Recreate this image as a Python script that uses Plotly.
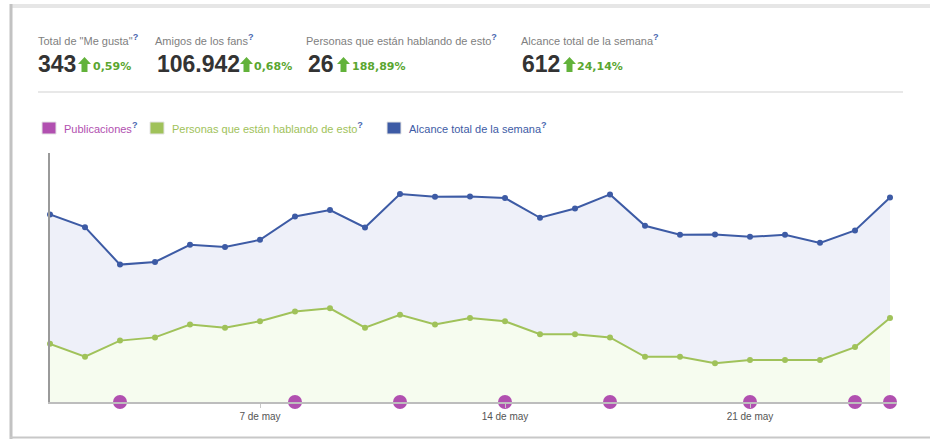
import plotly.graph_objects as go
import pandas as pd

# ---------------- data ----------------
dates = pd.date_range("2012-05-01", "2012-05-25", freq="D").strftime("%Y-%m-%d").tolist()
alcance = [561, 523, 411, 419, 470, 464, 485, 555, 574, 522, 622, 614, 615,
           610, 551, 579, 621, 527, 500, 501, 494, 500, 476, 513, 612]
hablando = [18, 14, 19, 20, 24, 23, 25, 28, 29, 23, 27, 24, 26,
            25, 21, 21, 20, 14, 14, 12, 13, 13, 13, 17, 26]
publicaciones = ["2012-05-03", "2012-05-08", "2012-05-11", "2012-05-14",
                 "2012-05-17", "2012-05-21", "2012-05-24", "2012-05-25"]
tick_vals = ["2012-05-07", "2012-05-14", "2012-05-21"]
tick_text = ["7 de may", "14 de may", "21 de may"]

stat_labels = ['Total de "Me gusta"', "Amigos de los fans",
               "Personas que están hablando de esto", "Alcance total de la semana"]
stat_values = ["343", "106.942", "26", "612"]
stat_changes = ["0,59%", "0,68%", "188,89%", "24,14%"]
legend_names = ["Publicaciones", "Personas que están hablando de esto",
                "Alcance total de la semana"]

# ---------------- style ----------------
BLUE = "#3d5ba5"
GREEN = "#a0c25a"
PURPLE = "#b150b0"
BLUE_FILL = "#eef0f9"
GREEN_FILL = "#f6fcef"
QCOL = "#4a67b0"

W_FIG, H_FIG = 930, 439
# plot area in screen pixels
L, R, T, B = 50, 897, 153, 402


def px(x):
    return (x - L) / (R - L)


def py(y):
    return (B - y) / (B - T)


fig = go.Figure()

fig.add_trace(go.Scatter(
    x=dates, y=alcance, name=legend_names[2], mode="lines+markers",
    line=dict(color=BLUE, width=2), marker=dict(size=6, color=BLUE),
    fill="tozeroy", fillcolor=BLUE_FILL, yaxis="y", cliponaxis=False,
    showlegend=False))

fig.add_trace(go.Scatter(
    x=dates, y=hablando, name=legend_names[1], mode="lines+markers",
    line=dict(color=GREEN, width=2), marker=dict(size=6, color=GREEN),
    fill="tozeroy", fillcolor=GREEN_FILL, yaxis="y2", cliponaxis=False,
    showlegend=False))

fig.add_trace(go.Scatter(
    x=publicaciones, y=[0] * len(publicaciones), name=legend_names[0],
    mode="markers", marker=dict(size=14, color=PURPLE), yaxis="y2",
    cliponaxis=False, showlegend=False))

shapes = []
annotations = []

# frame
shapes.append(dict(type="line", xref="paper", yref="paper", x0=px(10), x1=px(930),
                   y0=py(6), y1=py(6), line=dict(color="#e6e6e6", width=4)))
shapes.append(dict(type="line", xref="paper", yref="paper", x0=px(11), x1=px(11),
                   y0=py(4), y1=py(439), line=dict(color="#c2c2c2", width=3)))
shapes.append(dict(type="line", xref="paper", yref="paper", x0=px(10), x1=px(930),
                   y0=py(437.5), y1=py(437.5), line=dict(color="#c8c8c8", width=2)))
# separator
shapes.append(dict(type="line", xref="paper", yref="paper", x0=px(38), x1=px(903),
                   y0=py(92), y1=py(92), line=dict(color="#e8e8e8", width=2)))

Q = f'<span style="color:{QCOL};font-size:13px"><sup><b>?</b></sup></span>'

# header stats
label_x = [38, 155, 306, 521]
value_x = [38, 157, 308, 522]
arrow_x = [78, 240, 337, 563]
pct_x = [92, 253, 351, 576]
for i in range(4):
    annotations.append(dict(
        xref="paper", yref="paper", x=px(label_x[i] - 2), y=py(39),
        xanchor="left", yanchor="middle", showarrow=False,
        text=f"{stat_labels[i]}{Q}",
        font=dict(family="Liberation Sans, Arial", size=11, color="#808080")))
    annotations.append(dict(
        xref="paper", yref="paper", x=px(value_x[i] - 2), y=py(64),
        xanchor="left", yanchor="middle", showarrow=False,
        text=f"<b>{stat_values[i]}</b>",
        font=dict(family="Liberation Sans Narrow, Liberation Sans, Arial",
                  size=23, color="#333333")))
    annotations.append(dict(
        xref="paper", yref="paper", x=px(pct_x[i] - 1), y=py(66),
        xanchor="left", yanchor="middle", showarrow=False,
        text=f"<b>{stat_changes[i]}</b>",
        font=dict(family="DejaVu Sans", size=11, color="#5aa630")))
    # green up arrow
    ax = arrow_x[i]
    pts = [(ax + 6.5, 57), (ax + 13, 64), (ax + 9.5, 64), (ax + 9.5, 72),
           (ax + 3.5, 72), (ax + 3.5, 64), (ax, 64)]
    path = "M " + " L ".join(f"{px(a):.5f},{py(b):.5f}" for a, b in pts) + " Z"
    shapes.append(dict(type="path", xref="paper", yref="paper", path=path,
                       fillcolor="#62b23a", line=dict(width=0)))

# custom legend
leg_sq_x = [42, 150, 387]
leg_txt_x = [62, 170, 407]
leg_cols = [PURPLE, GREEN, BLUE]
for i in range(3):
    shapes.append(dict(type="rect", xref="paper", yref="paper",
                       x0=px(leg_sq_x[i]), x1=px(leg_sq_x[i] + 14),
                       y0=py(122), y1=py(134), fillcolor=leg_cols[i],
                       line=dict(color="#e4e4e4", width=1)))
    annotations.append(dict(
        xref="paper", yref="paper", x=px(leg_txt_x[i]), y=py(127),
        xanchor="left", yanchor="middle", showarrow=False,
        text=f"{legend_names[i]}{Q}",
        font=dict(family="Liberation Sans, Arial", size=11, color=leg_cols[i])))

x_end = pd.Timestamp(dates[-1]) + pd.Timedelta(hours=24 * 7 / 35)

fig.update_layout(
    width=W_FIG, height=H_FIG,
    margin=dict(l=L, r=W_FIG - R, t=T, b=H_FIG - B, pad=0),
    paper_bgcolor="white", plot_bgcolor="white",
    xaxis=dict(type="date", range=[dates[0], x_end.strftime("%Y-%m-%d %H:%M")],
               tickvals=tick_vals, ticktext=tick_text, ticks="outside",
               ticklen=4, tickcolor="#c8c8c8", showgrid=False, zeroline=False,
               showline=True, linecolor="#bdbdbd", linewidth=2,
               tickfont=dict(family="Liberation Sans, Arial", size=10, color="#555555")),
    yaxis=dict(range=[0, 744.8], showgrid=False, zeroline=False, showticklabels=False,
               showline=True, linecolor="#9a9a9a", linewidth=2, ticks=""),
    yaxis2=dict(range=[0, 77.07], overlaying="y", visible=False),
    shapes=shapes, annotations=annotations,
    hovermode=False,
)

fig.write_html(
    "out.html",
    config={"displayModeBar": False, "staticPlot": True},
    post_script=("document.documentElement.style.overflow='hidden';"
                 "document.body.style.margin='0px';"
                 "document.body.style.overflow='hidden';"),
)
